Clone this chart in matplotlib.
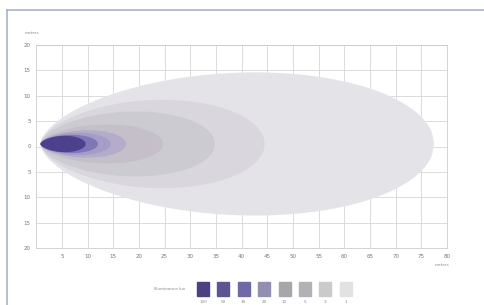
import numpy as np
import matplotlib.pyplot as plt
from matplotlib.patches import Rectangle

# isolux levels, innermost last so they draw on top
lux_levels = [1, 3, 5, 10, 20, 30, 50, 100]
reach_m = [77.5, 44.5, 34.8, 24.7, 17.5, 14.5, 12.0, 9.6]
half_width_m = [14.1, 8.7, 6.4, 3.85, 2.7, 2.2, 1.8, 1.6]
fill_colors = ['#e4e3e8', '#d9d7dd', '#cdcbd2', '#c5bfca', '#b4adca', '#a59cc7', '#7e76b6', '#4d418e']

legend_labels = ['100', '50', '30', '20', '10', '5', '3', '1']
legend_colors = ['#4a4283', '#5a5590', '#6f6aa6', '#928fb2', '#a7a6aa', '#b2b1b5', '#cacacd', '#e2e2e4']

x_ticks = list(range(5, 81, 5))
y_ticks = list(range(-20, 21, 5))

start_x = 0.8
center_y = 0.5


def teardrop(x0, x1, w, a=0.6, b=0.5, n=200):
    u = np.linspace(0, 1, n)
    prof = u ** a * (1 - u) ** b
    prof = prof / prof.max() * w
    xs = x0 + (x1 - x0) * u
    return np.concatenate([xs, xs[::-1]]), np.concatenate([center_y + prof, center_y - prof[::-1]])


fig = plt.figure(figsize=(4.84, 3.05), dpi=100)
fig.patch.set_facecolor('white')

# light frame around the picture
fig.add_artist(plt.Line2D([7 / 484, 1], [1 - 10 / 305] * 2, color='#a9b1cd', lw=1.2))
fig.add_artist(plt.Line2D([7 / 484] * 2, [0, 1 - 10 / 305], color='#a9b1cd', lw=1.2))

ax = fig.add_axes([36.3 / 484, 1 - 248 / 305, (447 - 36.3) / 484, (248 - 45) / 305])
for lv, r, w, c in zip(lux_levels, reach_m, half_width_m, fill_colors):
    xs, ys = teardrop(start_x, r, w)
    ax.fill(xs, ys, color=c, lw=0, zorder=2)

ax.set_xlim(0, 80)
ax.set_ylim(-20, 20)
ax.set_xticks(x_ticks)
ax.set_yticks(y_ticks)
ax.set_xticklabels([str(v) for v in x_ticks], fontsize=4, color='#777777')
ax.set_yticklabels([str(abs(v)) for v in y_ticks], fontsize=4, color='#777777')
ax.tick_params(length=0, pad=4)
ax.grid(True, color='#d6d6d6', lw=0.6, zorder=1)
ax.set_axisbelow(True)
for s in ax.spines.values():
    s.set_color('#cccccc')
    s.set_linewidth(0.6)

fig.text(25 / 484, 1 - 33 / 305, 'meters', fontsize=3, color='#888888', va='center')
fig.text(435 / 484, 1 - 265 / 305, 'meters', fontsize=3, color='#888888', va='center')

# legend strip
fig.text(185 / 484, 1 - 289 / 305, 'Illuminance lux', fontsize=3, color='#888888', va='center', ha='right')
for i, (lab, c) in enumerate(zip(legend_labels, legend_colors)):
    x = 197 + i * 20.4
    fig.add_artist(Rectangle((x / 484, 1 - 296 / 305), 12 / 484, 14 / 305, color=c, transform=fig.transFigure))
    fig.text((x + 6) / 484, 1 - 302 / 305, lab, fontsize=3, color='#888888', ha='center', va='center')

fig.savefig('out.png', dpi=100)
